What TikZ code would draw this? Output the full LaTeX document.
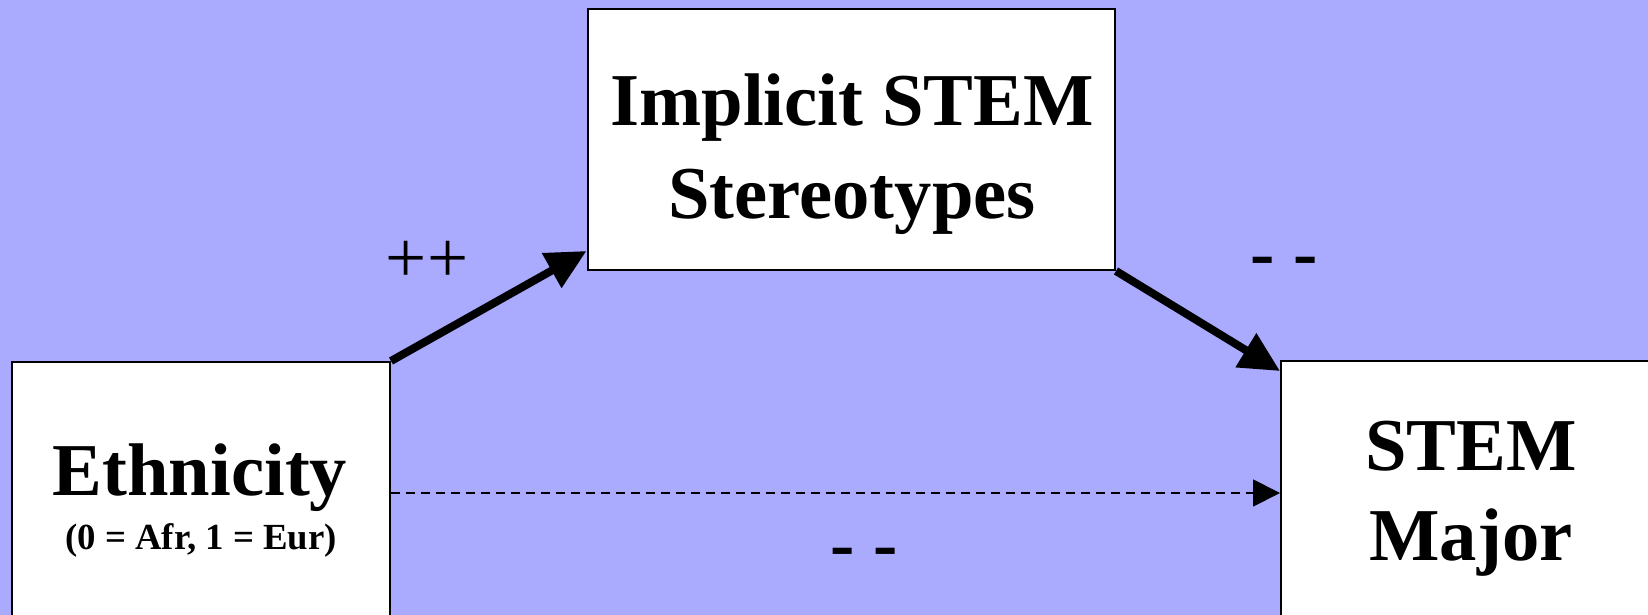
\documentclass[tikz,border=0pt]{standalone}
\usepackage{fontspec}
\setmainfont{Liberation Serif}
\usetikzlibrary{calc,arrows.meta}
\definecolor{bgblue}{RGB}{170,170,255}

\begin{document}
\begin{tikzpicture}[x=0.5pt,y=-0.5pt,
  box/.style={draw=black,line width=1pt,fill=white,rectangle,inner sep=0pt},
  title/.style={font=\fontsize{37.3}{44}\selectfont\bfseries,inner sep=0pt,anchor=base},
  subtitle/.style={font=\fontsize{18.4}{22}\selectfont\bfseries,inner sep=0pt,anchor=base},
  sign/.style={font=\fontsize{36.5}{44}\selectfont,inner sep=0pt,anchor=base},
  boldsign/.style={font=\fontsize{36.5}{44}\selectfont\bfseries,inner sep=0pt,anchor=base},
  solidarrow/.style={line width=4pt,-{Triangle[length=20pt,width=19pt]}},
  dasharrow/.style={line width=0.9pt,dash pattern=on 4.5pt off 3pt,-{Triangle[length=13.5pt,width=13.5pt]}}]

% background and frame
\fill[bgblue] (0,0) rectangle (1648,615);
\useasboundingbox (0,0) rectangle (1648,615);
\clip (0,0) rectangle (1648,615);

% boxes
\node[box,minimum width=189pt,minimum height=149pt] (eth) at (201,511) {};
\node[box,minimum width=263.75pt,minimum height=130.25pt] (imp) at (851.25,139.75) {};
\node[box,minimum width=199.5pt,minimum height=149.5pt] (stem) at (1480.5,510.5) {};

% box texts
\node[title] (ethA) at (200,495) {Ethnicity};
\node[subtitle] (ethB) at (201,549) {(0 = Afr, 1 = Eur)};
\node[title] (impA) at (852,125.7) {Implicit STEM};
\node[title] (impB) at (852,218.7) {Stereotypes};
\node[title] (stemA) at (1471,470.7) {STEM};
\node[title] (stemB) at (1471,560) {Major};

% paths
\draw[solidarrow] (eth.north east) -- ($(imp.south west)+(0,-20)$);
\draw[solidarrow] (imp.south east) -- ($(stem.north west)+(0,11)$);
\coordinate (direct) at (0,493);
\draw[dasharrow] (eth.east |- direct) -- (stem.west |- direct);

% path signs
\node[sign] (plusA) at (427,282) {++};
\node[boldsign] (minusA) at (1284,277) {- -};
\node[boldsign] (minusC) at (864,568) {- -};
\end{tikzpicture}
\end{document}
